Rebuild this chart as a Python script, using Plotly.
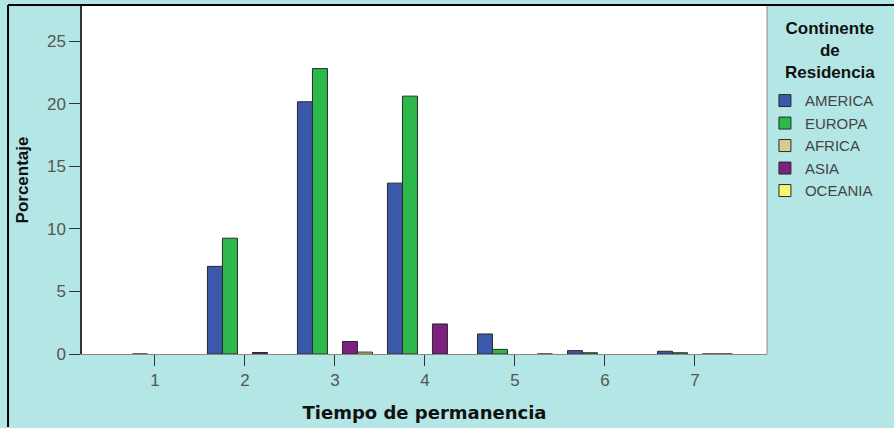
import plotly.graph_objects as go

categorias = [1, 2, 3, 4, 5, 6, 7]
continentes = ["AMERICA", "EUROPA", "AFRICA", "ASIA", "OCEANIA"]
america = [None, 7.0, 20.15, 13.65, 1.6, 0.27, 0.22]
europa = [0.0, 9.25, 22.8, 20.6, 0.37, 0.1, 0.1]
africa = [None, None, None, None, None, None, None]
asia = [None, 0.12, 1.0, 2.4, None, None, 0.0]
oceania = [None, None, 0.15, None, 0.0, None, 0.0]
colores = ["#3c58aa", "#2db84b", "#d6cc94", "#7c2180", "#f8f570"]

valores = [america, europa, africa, asia, oceania]

fig = go.Figure()
for nombre, serie, color in zip(continentes, valores, colores):
    fig.add_trace(go.Bar(x=categorias, y=serie, name=nombre,
                         marker=dict(color=color, line=dict(color="#2a2a2a", width=1))))

fig.update_layout(
    width=894, height=428,
    margin=dict(l=82, r=127, t=6, b=74, autoexpand=False),
    paper_bgcolor="#b4e6e6", plot_bgcolor="white",
    barmode="group", bargap=0.167, bargroupgap=0,
    font=dict(family="Liberation Sans, Arial, sans-serif", color="#555555", size=17),
    legend=dict(
        x=0.997, xanchor="left", y=0.775, yanchor="top",
        font=dict(family="Liberation Sans, Arial, sans-serif", size=15, color="#444444"),
        bgcolor="rgba(0,0,0,0)", itemwidth=30, tracegroupgap=0,
    ),
    showlegend=True,
)
fig.add_annotation(text="<b>Continente<br>de<br>Residencia</b>", xref="paper", yref="paper",
                   x=1.092, y=0.967, xanchor="center", yanchor="top", align="center",
                   showarrow=False,
                   font=dict(family="Liberation Sans, Arial, sans-serif", size=17, color="#111111"))
fig.update_xaxes(range=[0.19, 7.8], tickvals=categorias, ticks="outside", ticklen=11,
                 tickcolor="#333333", showline=True, linecolor="#888888", linewidth=1,
                 showgrid=False, zeroline=False,
                 title=dict(text="<b>Tiempo de permanencia</b>", standoff=16,
                            font=dict(family="DejaVu Sans, sans-serif", size=18, color="#111111")))
fig.update_yaxes(range=[0, 27.8], tickvals=[0, 5, 10, 15, 20, 25], ticks="outside", ticklen=11,
                 tickcolor="#333333", showline=True, linecolor="#333333", linewidth=1.5,
                 showgrid=False, zeroline=False,
                 title=dict(text="<b>Porcentaje</b>", standoff=14,
                            font=dict(family="Liberation Sans, Arial, sans-serif", size=17, color="#111111")))

# right edge of the plot area and outer frame
fig.add_shape(type="line", xref="paper", yref="paper", x0=1, x1=1, y0=0, y1=1,
              line=dict(color="#888888", width=1))
fig.add_shape(type="line", xref="paper", yref="paper", x0=-0.108, x1=1.2, y0=1.003, y1=1.003,
              line=dict(color="black", width=2))
fig.add_shape(type="line", xref="paper", yref="paper", x0=-0.108, x1=-0.108, y0=1.003, y1=-0.21,
              line=dict(color="black", width=2))

fig.write_html("out.html", config={"displayModeBar": False},
               post_script="document.body.style.margin='0';")
